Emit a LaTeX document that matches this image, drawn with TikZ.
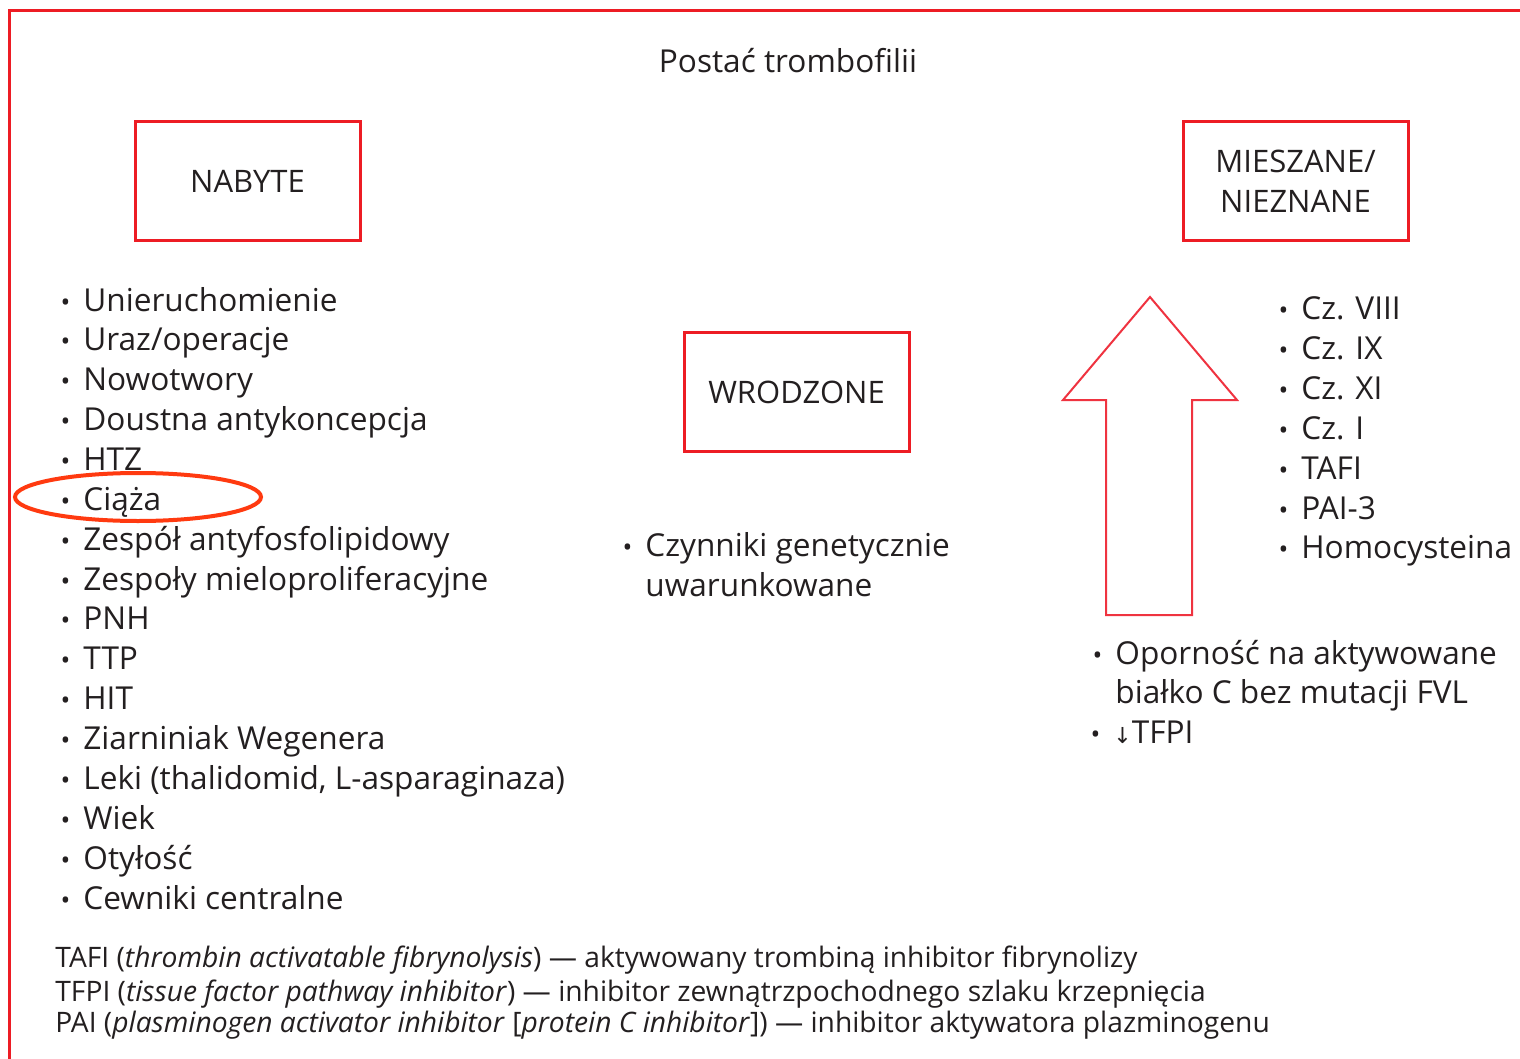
\documentclass[tikz,border=0pt]{standalone}
\usepackage{fontspec}
\setmainfont{Open Sans}
\newfontfamily\symfont{DejaVu Sans}
\definecolor{boxred}{HTML}{ED1C24}
\definecolor{arrred}{HTML}{EF3340}
\definecolor{ovalred}{HTML}{FF3A10}
\definecolor{txt}{HTML}{231F20}
\newcommand\bul{\llap{{\fontsize{13}{13}\selectfont\textbullet}\hspace{6.5pt}}}
\tikzset{
  catbox/.style={draw=boxred, line width=1.5pt, minimum width=112.5pt, minimum height=59.5pt,
    align=center, text=txt, font=\fontsize{15.5}{20}\selectfont, inner sep=0pt},
  item/.style={anchor=base west, inner sep=0pt, text=txt, font=\fontsize{15.8}{20}\selectfont},
  note/.style={anchor=base west, inner sep=0pt, text=txt, font=\fontsize{14.1}{16}\selectfont},
  frameline/.style={draw=boxred, line width=1.5pt},
  bigarrow/.style={draw=arrred, line width=1pt, line join=miter},
  oval/.style={draw=ovalred, line width=2pt}
}
\begin{document}
\begin{tikzpicture}[x=0.5pt,y=-0.5pt]
\useasboundingbox (0,0) rectangle (1520,1059);
\draw[frameline] (9,1059) -- (9,11) -- (1520,11);

\node[item, anchor=base] (title) at (788,73) {Postać trombofilii};

\node[catbox] (nabyte) at (247.5,181.5) {NABYTE};
\node[catbox] (wrodzone) at (796.5,392) {WRODZONE};
\node[catbox] (mieszane) at (1295.5,181.5) {MIESZANE/\\NIEZNANE};

\foreach \t [count=\i] in {Unieruchomienie, Uraz/operacje, Nowotwory, Doustna antykoncepcja, HTZ, Ciąża,
  Zespół antyfosfolipidowy, Zespoły mieloproliferacyjne, PNH, TTP, HIT, Ziarniniak Wegenera,
  {Leki (thalidomid, L-asparaginaza)}, Wiek, Otyłość, Cewniki centralne}
  { \node[item] (n\i) at (83,{311+(\i-1)*39.87}) {\bul\t}; }

\draw[oval] (138,497) ellipse [x radius=61.5pt, y radius=12pt];

\node[item] (w1) at (645,556) {\bul Czynniki genetycznie};
\node[item] (w2) at (645,596) {uwarunkowane};

\foreach \t [count=\i] in {Cz. VIII, Cz. IX, Cz. XI, Cz. I, TAFI, PAI-3, Homocysteina}
  { \node[item] (m\i) at (1301,{320+(\i-1)*39.83}) {\bul\t}; }

\draw[bigarrow] (1150,297) -- (1237,400) -- (1192,400) -- (1192,615) -- (1106,615)
  -- (1106,400) -- (1063,400) -- cycle;

\node[item] (o1) at (1115,664) {\bul Oporność na aktywowane};
\node[item] (o2) at (1115,703) {białko C bez mutacji FVL};
\node[item] (o3) at (1113,743) {\bul{\symfont\fontsize{11}{11}\selectfont↓}TFPI};

\node[note] (f1) at (55,967) {TAFI (\textit{thrombin activatable fibrynolysis}) — aktywowany trombiną inhibitor fibrynolizy};
\node[note] (f2) at (55,1001) {TFPI (\textit{tissue factor pathway inhibitor}) — inhibitor zewnątrzpochodnego szlaku krzepnięcia};
\node[note] (f3) at (55,1032) {PAI (\textit{plasminogen activator inhibitor} [\textit{protein C inhibitor}]) — inhibitor aktywatora plazminogenu};
\end{tikzpicture}
\end{document}
